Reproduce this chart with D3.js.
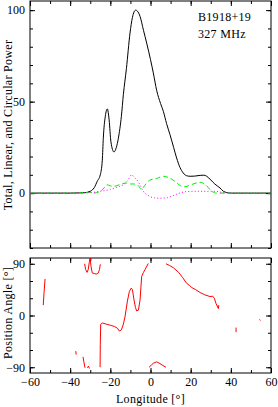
<!DOCTYPE html>
<html>
<head>
<meta charset="utf-8">
<script src="https://cdn.jsdelivr.net/npm/d3@7"></script>
<style>
  body { margin: 0; background: #fff; }
  svg text { font-family: "Liberation Serif", serif; font-size: 12px; fill: #000; }
  .title { letter-spacing: 0.3px; }
</style>
</head>
<body>
<div id="chart"></div>
<script>
// total intensity (black)
const totalLon   = [-60, -50, -40, -33, -30, -28, -26.5, -25, -24, -23.5, -22.5, -21.5, -20.6, -19.7, -18.2, -17, -16, -14.5, -13.5, -12, -10.2, -9, -7.4, -6.2, -5.2, -3.5, -1.9, 0, 1.4, 3.1, 5, 6.4, 8, 9.7, 11.5, 13, 14.7, 16.3, 18, 19.7, 22, 24.7, 26.5, 28, 30, 32, 34.6, 36.3, 38, 40, 50, 60];
const totalPower = [0, 0, 0, 0.2, 1, 3, 6.5, 10, 18, 30, 42, 46, 40, 28, 22.5, 25, 30, 42, 54, 68, 87.5, 96, 100, 99, 96.6, 89, 82, 73, 65.7, 56, 49, 44.7, 38, 32, 25, 19.2, 14, 11, 9.5, 9.2, 9.3, 9.7, 9.8, 9.2, 7.2, 5, 2.8, 1, 0.3, 0, 0, 0];

// linear polarisation (green dashed)
const linearLon   = [-60, -50, -40, -30, -28.5, -25, -23, -21.8, -20, -18.5, -17, -15, -12, -10, -8.5, -6, -4.5, -3, -0.5, 3, 6.4, 9, 12.2, 15, 17.2, 20, 24.7, 27.5, 30.5, 33, 40, 50, 60];
const linearPower = [0, 0, 0, 0.3, 0, 1, 3, 4.6, 4, 3.7, 4, 4.8, 5.5, 5, 5, 4, 2, 4, 7, 8, 9.2, 8.5, 6.4, 4, 3.5, 4.5, 5.9, 4.5, 1, 0, 0, 0, 0];

// circular polarisation (magenta dotted)
const circularLon   = [-60, -40, -30, -25, -20, -16, -13.5, -11, -9.4, -8, -6.9, -5, -3.6, -1.5, 0, 2, 4, 8, 11, 14.7, 18, 23, 28, 32.4, 36, 40, 60];
const circularPower = [0, 0, 0.3, 1, 2, 3.5, 4.6, 7.5, 10, 8.5, 7.4, 4, 1, -1, -2, -2.6, -2.8, -2.6, -1.5, 0.1, 0.8, 1, 1, 1, 0.3, 0, 0];

// position angle (red), null marks a gap
const paLon   = [-53.4, -53, -52.5, null,
  -32.8, -32.3, -31.6, -31, -30.5, -30.1, -29.6, -29, -28, -27, -26, -25.4, -25, null,
  -37.2, -37, null,
  -33.6, -33.2, -32.8, -32.6, null,
  -31.4, -30.9, -30.4, null,
  -25.1, -25, -24.8, -24, -22, -20, -18, -16.5, -15.5, -14.5, -13.5, -12.7, -11.5, -10.5, -9.6, -9, -8.2, -7.5, -6.9, -6, -5.2, -4.4, -3.5, -2.7, -1.1, null,
  -0.7, 0.5, 1.4, 3.1, 4.7, 6.2, 7.7, null,
  7.7, 9.5, 11.4, 14, 16, 18, 19.5, 20.5, 22.5, 24.7, 27, 29.6, 31, 31.8, 32.6, 33.8, 34, null,
  42.6, 42.6, null,
  54.2, 54.8];
const paAngle = [18, 40, 63.5, null,
  90, 80, 75, 80, 92, 100, 85, 74, 73, 72, 74, 80, 89, null,
  -62, -68, null,
  -72, -80, -88, -91, null,
  -91, -88, -92, null,
  -90, -50, -15.4, -13, -15, -17, -19, -22, -27, -25, -15, -2.5, 25, 42, 47.6, 45, 27, 14, 8, 9.3, 27, 68, 75, 80, 90.5, null,
  -90, -86, -83, -80.6, -83.6, -87, -90, null,
  90, 87, 83, 75, 66, 56, 52, 48.7, 45, 40, 36, 33, 33.5, 30, 21, 12, 18, null,
  -21, -29, null,
  -7, -8.5];

const lonTicks = [-60, -40, -20, 0, 20, 40, 60];
const powerTicks = [0, 50, 100];
const paTicks = [-90, 0, 90];

const fmt = d => d < 0 ? "\u2212" + Math.abs(d) : "" + d;

class PulsarPlot {
  constructor(_config){
    this.config = {
      parentElement: _config.parentElement,
      containerWidth: _config.containerWidth || 278,
      containerHeight: _config.containerHeight || 407
    };
    this.initVis();
  }

  initVis(){
    let vis = this;

    vis.svg = d3.select(vis.config.parentElement)
      .append("svg")
      .attr("width", vis.config.containerWidth)
      .attr("height", vis.config.containerHeight);

    vis.x = d3.scaleLinear().domain([-60, 60]).range([30, 271]);
    vis.yPow = d3.scaleLinear().domain([-30, 105]).range([248, 1]);
    vis.yPa = d3.scaleLinear().domain([-100, 100]).range([373, 258]);

    vis.drawFrame(vis.yPow, d3.range(-30, 101, 10), powerTicks, "top");
    vis.drawFrame(vis.yPa, d3.range(-90, 91, 30), paTicks, "bottom");

    // profile lines
    vis.addSeries(totalLon, totalPower, vis.yPow, "#000", null, "clipTop");
    vis.addSeries(linearLon, linearPower, vis.yPow, "#00ee00", "5,3", "clipTop");
    vis.addSeries(circularLon, circularPower, vis.yPow, "#ff00ff", "1,2.2", "clipTop");
    vis.addSeries(paLon, paAngle, vis.yPa, "#ff0000", null, "clipBottom", true);

    // labels
    vis.svg.append("text")
      .attr("class", "title")
      .attr("x", 198).attr("y", 21)
      .text("B1918+19");
    vis.svg.append("text")
      .attr("class", "title")
      .attr("x", 198).attr("y", 38)
      .text("327 MHz");

    vis.svg.append("text")
      .attr("class", "title")
      .attr("text-anchor", "middle")
      .attr("transform", "translate(12,125) rotate(-90)")
      .text("Total, Linear, and Circular Power");
    vis.svg.append("text")
      .attr("class", "title")
      .attr("text-anchor", "middle")
      .attr("transform", "translate(12,313) rotate(-90)")
      .text("Position Angle [\u00b0]");
    vis.svg.append("text")
      .attr("class", "title")
      .attr("text-anchor", "middle")
      .attr("x", 150.5).attr("y", 403)
      .text("Longitude [\u00b0]");
  }

  drawFrame(y, minorY, majorY, name){
    let vis = this;
    let [y0, y1] = y.range();
    let x0 = vis.x.range()[0], x1 = vis.x.range()[1];
    let showX = name === "bottom";

    vis.svg.append("clipPath").attr("id", name === "top" ? "clipTop" : "clipBottom")
      .append("rect")
      .attr("x", x0).attr("y", y1)
      .attr("width", x1 - x0).attr("height", y0 - y1);

    let axes = [
      [d3.axisBottom(vis.x), "translate(0," + y0 + ")", true],
      [d3.axisTop(vis.x), "translate(0," + y1 + ")", false],
    ];
    axes.forEach(([ax, tr, lab]) => {
      vis.svg.append("g").attr("transform", tr)
        .call(ax.tickValues(d3.range(-60, 61, 10)).tickSize(-3).tickFormat(""))
        .call(g => g.select(".domain").remove());
      vis.svg.append("g").attr("transform", tr)
        .call(ax.tickValues(lonTicks).tickSize(-5).tickPadding(4)
          .tickFormat(lab && showX ? fmt : ""))
        .call(g => g.select(".domain").remove())
        .call(g => g.selectAll("text").attr("font-size", 12).attr("font-family", "Liberation Serif"));
    });

    let yaxes = [
      [d3.axisLeft(y), "translate(" + x0 + ",0)", true],
      [d3.axisRight(y), "translate(" + x1 + ",0)", false],
    ];
    yaxes.forEach(([ax, tr, lab]) => {
      vis.svg.append("g").attr("transform", tr)
        .call(ax.tickValues(minorY).tickSize(-3).tickFormat(""))
        .call(g => g.select(".domain").remove());
      vis.svg.append("g").attr("transform", tr)
        .call(ax.tickValues(majorY).tickSize(-5).tickPadding(5)
          .tickFormat(lab ? fmt : ""))
        .call(g => g.select(".domain").remove())
        .call(g => g.selectAll("text").attr("font-size", 12).attr("font-family", "Liberation Serif"));
    });

    vis.svg.append("rect")
      .attr("x", x0).attr("y", y1)
      .attr("width", x1 - x0).attr("height", y0 - y1)
      .attr("fill", "none")
      .attr("stroke", "#000")
      .attr("stroke-width", 1);
  }

  addSeries(lon, val, y, color, dash, clip, broken){
    let vis = this;
    let pts = lon.map((d, i) => [d, val[i]]);
    let line = d3.line()
      .defined(d => d[0] !== null && d[1] !== null)
      .x(d => vis.x(d[0]))
      .y(d => y(d[1]))
      .curve(broken ? d3.curveLinear : d3.curveMonotoneX);
    vis.svg.append("path")
      .datum(pts)
      .attr("clip-path", "url(#" + clip + ")")
      .attr("fill", "none")
      .attr("stroke", color)
      .attr("stroke-width", 1)
      .attr("stroke-dasharray", dash)
      .attr("d", line);
  }
}

new PulsarPlot({ parentElement: "#chart" });
</script>
</body>
</html>
